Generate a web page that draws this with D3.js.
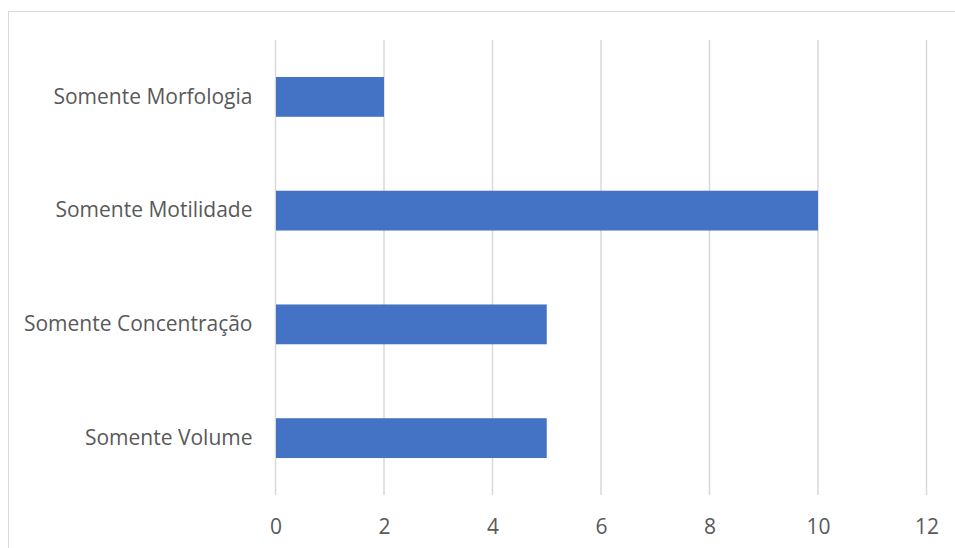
<!DOCTYPE html>
<html>
<head>
<meta charset="utf-8">
<script src="https://cdn.jsdelivr.net/npm/d3@7"></script>
<style>
  html, body { margin: 0; padding: 0; background: #fff; }
  svg { display: block; }
</style>
</head>
<body>
<svg id="chart" width="955" height="548"></svg>
<script>
// Categories listed top to bottom, with their counts
const categories = ["Somente Morfologia", "Somente Motilidade", "Somente Concentração", "Somente Volume"];
const values = [2, 10, 5, 5];
const xTicks = [0, 2, 4, 6, 8, 10, 12];

const svg = d3.select("#chart");
const W = 955, H = 548;
const font = "'Open Sans', sans-serif";

// Chart area frame
svg.append("rect")
  .attr("x", 8.5).attr("y", 11.5)
  .attr("width", W + 10).attr("height", H + 10)
  .attr("fill", "#fff")
  .attr("stroke", "#d9d9d9").attr("stroke-width", 1);

const plot = { left: 275.5, right: 926.5, top: 40, bottom: 495 };

const x = d3.scaleLinear().domain([0, 12]).range([plot.left, plot.right]);
const y = d3.scaleBand().domain(categories).range([plot.top, plot.bottom]).paddingInner(0.65).paddingOuter(0.325);

// Vertical gridlines
svg.append("g")
  .selectAll("line")
  .data(xTicks)
  .join("line")
  .attr("x1", d => x(d)).attr("x2", d => x(d))
  .attr("y1", plot.top).attr("y2", plot.bottom)
  .attr("stroke", "#d9d9d9").attr("stroke-width", 1.5);

// Bars
svg.append("g")
  .selectAll("rect")
  .data(categories)
  .join("rect")
  .attr("x", x(0) + 0.5)
  .attr("y", d => y(d))
  .attr("width", (d, i) => x(values[i]) - x(0) - 0.5)
  .attr("height", y.bandwidth())
  .attr("fill", "#4472c4");

// Category labels
const yAxis = d3.axisLeft(y).tickSize(0).tickPadding(23);
const gy = svg.append("g").attr("transform", `translate(${plot.left},0)`).call(yAxis);
gy.select(".domain").remove();
gy.selectAll("text")
  .attr("font-family", font).attr("font-size", 21).attr("fill", "#595959");

// Value axis labels
const xAxis = d3.axisBottom(x).tickValues(xTicks).tickSize(0).tickPadding(24);
const gx = svg.append("g").attr("transform", `translate(0,${plot.bottom})`).call(xAxis);
gx.select(".domain").remove();
gx.selectAll("text")
  .attr("font-family", font).attr("font-size", 21).attr("fill", "#595959");
</script>
</body>
</html>
